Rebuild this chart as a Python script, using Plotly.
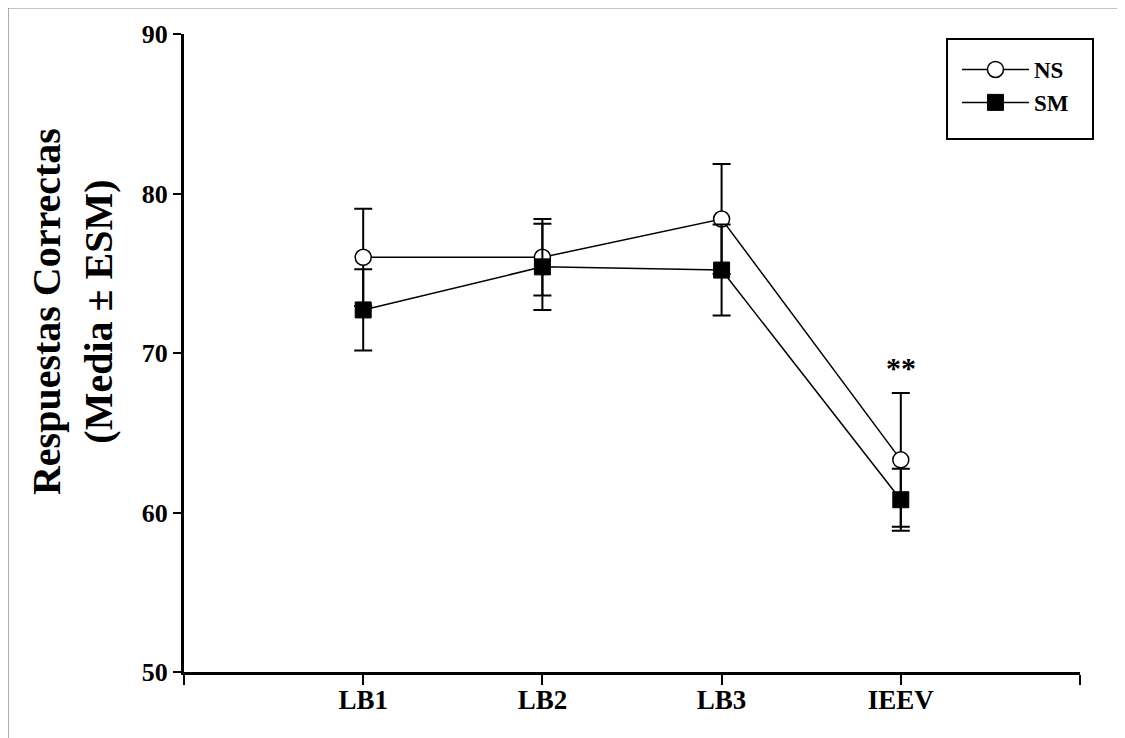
import plotly.graph_objects as go

categories = ["LB1", "LB2", "LB3", "IEEV"]
x_pos = [1, 2, 3, 4]
ns_mean = [76.0, 76.0, 78.4, 63.3]
ns_err = [3.05, 2.4, 3.45, 4.2]
sm_mean = [72.7, 75.4, 75.2, 60.8]
sm_err = [2.55, 2.7, 2.85, 1.95]
y_ticks = [50, 60, 70, 80, 90]

FONT = "Liberation Serif"

fig = go.Figure()
fig.add_trace(go.Scatter(
    x=x_pos, y=ns_mean, name="<b>NS</b>", mode="lines+markers",
    line=dict(color="black", width=1.5),
    marker=dict(symbol="circle", size=16, color="white", line=dict(color="black", width=1.5)),
    error_y=dict(type="data", array=ns_err, color="black", thickness=2, width=9),
))
fig.add_trace(go.Scatter(
    x=x_pos, y=sm_mean, name="<b>SM</b>", mode="lines+markers",
    line=dict(color="black", width=1.5),
    marker=dict(symbol="square", size=16, color="black", line=dict(color="black", width=1)),
    error_y=dict(type="data", array=sm_err, color="black", thickness=2, width=9),
))

fig.add_annotation(x=4, y=69.1, xref="x", yref="y", text="<b>**</b>", showarrow=False,
                   font=dict(family=FONT, size=30, color="black"), yanchor="middle")

fig.add_annotation(x=-0.1244, y=0.565, xref="paper", yref="paper",
                   text="<b>Respuestas Correctas<br>(Media ± ESM)</b>", textangle=-90,
                   showarrow=False, font=dict(family=FONT, size=40, color="black"),
                   xanchor="center", yanchor="middle")

# outer frame (only top/left visible)
fig.add_shape(type="rect", xref="paper", yref="paper", x0=-0.1965, y0=-0.3, x1=1.2, y1=1.041,
              line=dict(color="#888888", width=1.5), fillcolor="rgba(0,0,0,0)", layer="below")
# legend box
fig.add_shape(type="rect", xref="paper", yref="paper", x0=0.8516, y0=0.8356, x1=1.0145, y1=0.992,
              line=dict(color="black", width=2), fillcolor="white", layer="below")

fig.update_layout(
    width=1125, height=738,
    margin=dict(l=176, r=53, t=21, b=74),
    paper_bgcolor="white", plot_bgcolor="rgba(0,0,0,0)",
    font=dict(family=FONT, color="black"),
    showlegend=True,
    legend=dict(x=0.8627, y=0.978, xanchor="left", yanchor="top",
                borderwidth=0, bgcolor="rgba(0,0,0,0)",
                font=dict(family=FONT, size=23, color="black"),
                itemwidth=67, tracegroupgap=0),
    xaxis=dict(range=[0, 5], tickmode="array", tickvals=[0, 1, 2, 3, 4, 5],
               ticktext=["", "<b>LB1</b>", "<b>LB2</b>", "<b>LB3</b>", "<b>IEEV</b>", ""],
               ticks="outside", ticklen=10, tickwidth=2, tickcolor="black",
               showline=True, linecolor="black", linewidth=3, showgrid=False, zeroline=False,
               ticklabelstandoff=-8,
               tickfont=dict(family=FONT, size=27, color="black")),
    yaxis=dict(range=[50, 90], tickmode="array", tickvals=y_ticks,
               ticktext=[f"<b>{v}</b>" for v in y_ticks],
               ticks="outside", ticklen=8, tickwidth=2, tickcolor="black",
               showline=True, linecolor="black", linewidth=3, showgrid=False, zeroline=False,
               tickfont=dict(family=FONT, size=26, color="black")),
)

fig.write_html("out.html")
